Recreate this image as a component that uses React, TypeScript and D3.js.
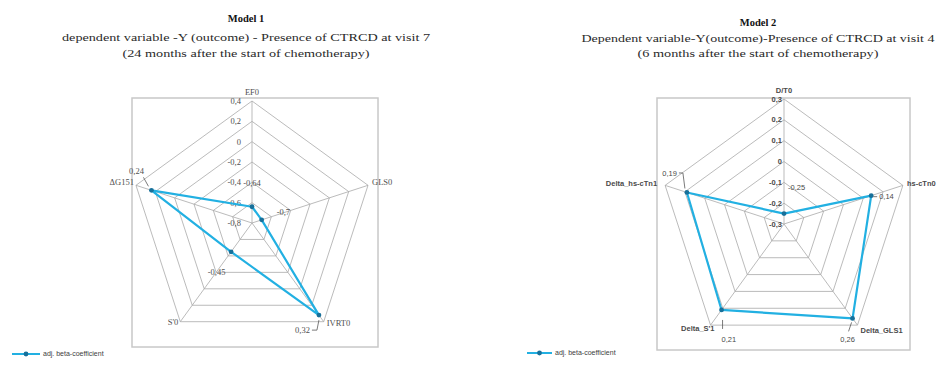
import React, { useEffect, useRef } from "react";
import * as d3 from "d3";

// Model 1
const model1Axes = ["EF0", "GLS0", "IVRT0", "S'0", "ΔG151"];
const model1Values = [-0.64, -0.7, 0.32, -0.45, 0.24];
const model1Ticks = [-0.8, -0.6, -0.4, -0.2, 0, 0.2, 0.4];

// Model 2
const model2Axes = ["D/T0", "hs-cTn0", "Delta_GLS1", "Delta_S'1", "Delta_hs-cTn1"];
const model2Values = [-0.25, 0.14, 0.26, 0.21, 0.19];
const model2Ticks = [-0.3, -0.2, -0.1, 0, 0.1, 0.2, 0.3];

const legendLabel = "adj. beta-coefficient";
const lineColor = "#22b0e2";
const markerColor = "#17709a";
const gridColor = "#a9a9a9";

const comma = (v: number) => String(+v.toFixed(2)).replace(".", ",");

type Off = { dx: number; dy: number; anchor: string; leader?: number[][] };

function drawRadar(g: any, opts: any) {
  const { cx, cy, R, axes, values, ticks, frame, catFont, tickFont, valFont, catOff, valOff, tickDx, textColor } = opts;
  const n = axes.length;
  const r = d3.scaleLinear().domain([ticks[0], ticks[ticks.length - 1]]).range([0, R]);
  const ang = (i: number) => (i * 2 * Math.PI) / n;
  const pt = (i: number, v: number) => [cx + r(v) * Math.sin(ang(i)), cy - r(v) * Math.cos(ang(i))];

  g.append("rect")
    .attr("x", frame[0]).attr("y", frame[1])
    .attr("width", frame[2] - frame[0]).attr("height", frame[3] - frame[1])
    .attr("fill", "none").attr("stroke", "#c8c8c8").attr("stroke-width", 1.5);

  // rings
  ticks.slice(1).forEach((t: number) => {
    g.append("path")
      .attr("d", d3.line()(d3.range(n).map((i) => pt(i, t) as [number, number])) + "Z")
      .attr("fill", "none").attr("stroke", gridColor).attr("stroke-width", 0.8);
  });
  // spokes
  d3.range(n).forEach((i) => {
    const [x, y] = pt(i, ticks[ticks.length - 1]);
    g.append("line").attr("x1", cx).attr("y1", cy).attr("x2", x).attr("y2", y)
      .attr("stroke", gridColor).attr("stroke-width", 0.8);
  });

  // tick labels
  ticks.forEach((t: number) => {
    g.append("text").attr("x", cx + tickDx).attr("y", cy - r(t)).attr("dy", "0.35em")
      .attr("text-anchor", "end").attr("fill", textColor)
      .style("font", tickFont).text(comma(t));
  });

  // category labels
  axes.forEach((a: string, i: number) => {
    const [x, y] = pt(i, ticks[ticks.length - 1]);
    const o: Off = catOff[i];
    g.append("text").attr("x", x + o.dx).attr("y", y + o.dy).attr("dy", "0.35em")
      .attr("text-anchor", o.anchor).attr("fill", textColor)
      .style("font", catFont).text(a);
  });

  // series
  const pts = values.map((v: number, i: number) => pt(i, v));
  g.append("path")
    .attr("d", d3.line()(pts) + "Z")
    .attr("fill", "none").attr("stroke", lineColor).attr("stroke-width", 2.2)
    .attr("stroke-linejoin", "round");
  pts.forEach(([x, y]: number[]) => {
    g.append("circle").attr("cx", x).attr("cy", y).attr("r", 2.4).attr("fill", markerColor);
  });

  // value labels
  values.forEach((v: number, i: number) => {
    const [x, y] = pts[i];
    const o: Off = valOff[i];
    if (o.leader) {
      g.append("path")
        .attr("d", d3.line()(o.leader.map(([lx, ly]) => [x + lx, y + ly] as [number, number])))
        .attr("fill", "none").attr("stroke", "#595959").attr("stroke-width", 0.8);
    }
    g.append("text").attr("x", x + o.dx).attr("y", y + o.dy).attr("dy", "0.35em")
      .attr("text-anchor", o.anchor).attr("fill", textColor)
      .style("font", valFont).text(comma(v));
  });
}

function drawLegend(g: any, x0: number, x1: number, y: number) {
  g.append("line").attr("x1", x0).attr("x2", x1).attr("y1", y).attr("y2", y)
    .attr("stroke", lineColor).attr("stroke-width", 2);
  g.append("circle").attr("cx", (x0 + x1) / 2).attr("cy", y).attr("r", 2.4).attr("fill", markerColor);
  g.append("text").attr("x", x1 + 3).attr("y", y).attr("dy", "0.35em")
    .attr("fill", "#404040").style("font", "7px 'Liberation Sans', Arial, sans-serif")
    .text(legendLabel);
}

function drawTitle(g: any, cx: number, lines: string[], ys: number[], widths: number[]) {
  g.append("text").attr("x", cx).attr("y", ys[0]).attr("dy", "0.35em")
    .attr("text-anchor", "middle").attr("fill", "#111")
    .style("font", "bold 10.5px 'Liberation Serif', 'Times New Roman', serif").text(lines[0]);
  [1, 2].forEach((k) => {
    g.append("text").attr("x", cx).attr("y", ys[k]).attr("dy", "0.35em")
      .attr("text-anchor", "middle").attr("fill", "#2a2a2a")
      .attr("textLength", widths[k - 1]).attr("lengthAdjust", "spacingAndGlyphs")
      .style("font", "10.5px 'Liberation Serif', 'Times New Roman', serif").text(lines[k]);
  });
}

export default function App() {
  const ref = useRef<SVGSVGElement>(null);
  useEffect(() => {
    const svg = d3.select(ref.current);
    svg.selectAll("*").remove();
    svg.append("rect").attr("width", 945).attr("height", 365).attr("fill", "#fff");

    drawTitle(svg, 246,
      ["Model 1", "dependent variable -Y (outcome) - Presence of CTRCD at visit  7", "(24 months  after the start of chemotherapy)"],
      [18, 37, 53], [368, 247]);
    drawTitle(svg, 758,
      ["Model 2", "Dependent variable-Y(outcome)-Presence of CTRCD at visit 4", "(6 months  after the start of chemotherapy)"],
      [22, 38, 53], [353, 241]);

    const serif = "'Liberation Serif', 'Times New Roman', serif";
    drawRadar(svg.append("g"), {
      cx: 252, cy: 223, R: 122,
      axes: model1Axes, values: model1Values, ticks: model1Ticks,
      frame: [132, 98, 378, 347],
      catFont: `8.5px ${serif}`, tickFont: `8.5px ${serif}`, valFont: `8.5px ${serif}`,
      tickDx: -11, textColor: "#505050",
      catOff: [
        { dx: 0, dy: -9, anchor: "middle" },
        { dx: 4, dy: -3, anchor: "start" },
        { dx: 3, dy: 1, anchor: "start" },
        { dx: -2, dy: 0, anchor: "end" },
        { dx: -2, dy: -3, anchor: "end" },
      ],
      valOff: [
        { dx: 0, dy: -24, anchor: "middle" },
        { dx: 15, dy: -8, anchor: "start" },
        { dx: -9, dy: 15, anchor: "end", leader: [[-7, 15], [-2, 15], [0, 5]] },
        { dx: -14.5, dy: 20, anchor: "middle" },
        { dx: -15, dy: -19, anchor: "middle", leader: [[-8, -13], [-3, -4]] },
      ],
    });

    const sans = "'Liberation Sans', Arial, sans-serif";
    drawRadar(svg.append("g"), {
      cx: 784, cy: 224, R: 125,
      axes: model2Axes, values: model2Values, ticks: model2Ticks,
      frame: [657, 98, 910, 350],
      catFont: `bold 7.5px ${sans}`, tickFont: `bold 7.5px ${sans}`, valFont: `7.5px ${sans}`,
      tickDx: -2, textColor: "#4a4a4a",
      catOff: [
        { dx: 0, dy: -9, anchor: "middle" },
        { dx: 4, dy: -2, anchor: "start" },
        { dx: 3, dy: 5, anchor: "start" },
        { dx: 4, dy: 3, anchor: "end" },
        { dx: -8, dy: -2, anchor: "end" },
      ],
      valOff: [
        { dx: 4, dy: -26, anchor: "start" },
        { dx: 8, dy: 1, anchor: "start", leader: [[2, 1], [6, 1]] },
        { dx: -5, dy: 21, anchor: "middle", leader: [[-1, 4], [-4, 13]] },
        { dx: 0, dy: 29, anchor: "start", leader: [[1, 10], [1, 19]] },
        { dx: -10, dy: -19.5, anchor: "end", leader: [[-8, -19.5], [-4, -19.5], [-2, -4]] },
      ],
    });

    drawLegend(svg, 12, 40, 354);
    drawLegend(svg, 527, 552, 353);
  }, []);
  return (
    <svg ref={ref} width={945} height={365} style={{ position: "absolute", left: 0, top: 0 }} />
  );
}
